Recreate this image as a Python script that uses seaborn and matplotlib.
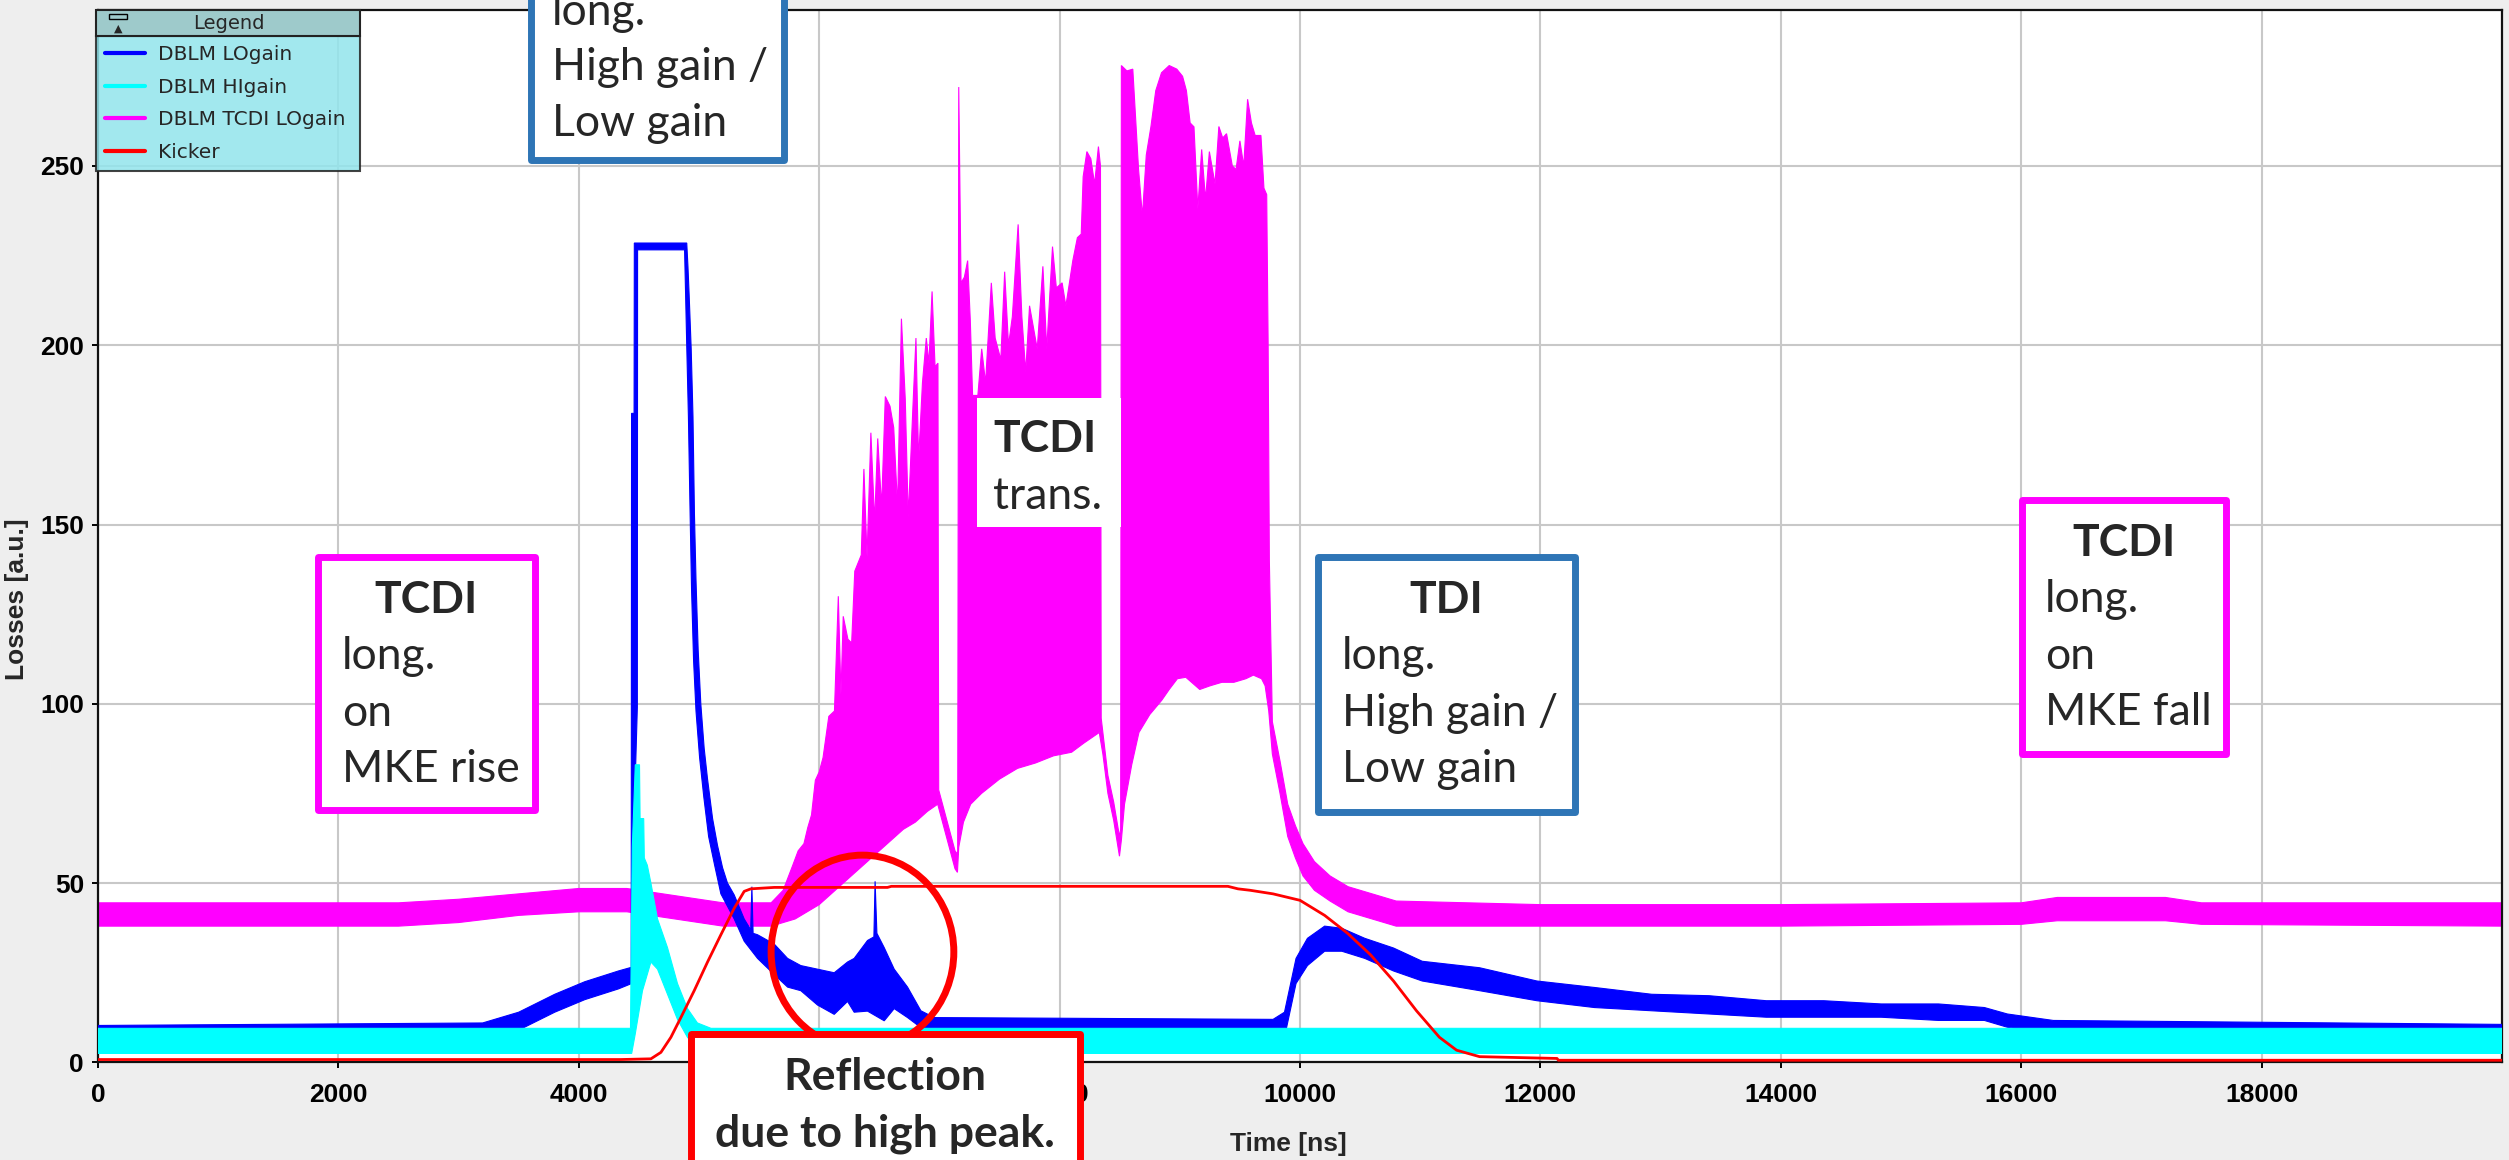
import numpy as np
import matplotlib
matplotlib.use("Agg")
import matplotlib.pyplot as plt
import seaborn as sns
from matplotlib.patches import Rectangle, Ellipse
from matplotlib.lines import Line2D

# ---------------- data ----------------
# DBLM TCDI LOgain (magenta): upper / lower envelope of the dense trace
tcdi_hi_t = [0, 2500, 3000, 3500, 4000, 4400, 4800, 5200, 5600, 5700, 5777, 5825, 5873, 5905, 5936,
             5968, 6000, 6032, 6080, 6127, 6159, 6181, 6200, 6239, 6270, 6296, 6350, 6372, 6398,
             6430, 6461, 6487, 6519, 6550, 6589, 6620, 6652, 6684, 6716, 6741, 6780, 6805, 6827,
             6859, 6891, 6913, 6939, 6964, 6988, 6994, 7034, 7082, 7130, 7152, 7161, 7180, 7208,
             7235, 7257, 7276, 7320, 7352, 7384, 7432, 7464, 7511, 7543, 7575, 7607, 7655, 7686,
             7718, 7750, 7782, 7814, 7861, 7893, 7941, 7973, 8021, 8052, 8080, 8110, 8148, 8180,
             8196, 8227, 8260, 8291, 8323, 8340, 8346, 8402, 8450, 8498, 8508, 8514, 8560, 8609,
             8657, 8689, 8721, 8760, 8800, 8848, 8912, 8975, 9023, 9055, 9086, 9118, 9150, 9182,
             9214, 9246, 9293, 9325, 9357, 9389, 9437, 9468, 9500, 9532, 9564, 9596, 9627, 9675,
             9700, 9723, 9735, 9745, 9770, 9834, 9898, 9962, 10025, 10120, 10250, 10400, 10600,
             10800, 12000, 14000, 16000, 16300, 17200, 17500, 20000]
tcdi_hi_v = [44.5, 44.5, 45.5, 47, 48.5, 48.5, 46.5, 44.5, 44.5, 48, 54.7, 59, 61, 65.5, 69,
             78.7, 81, 85, 96.5, 98, 130, 102.6, 124.4, 118, 117, 137, 141.5, 165.5, 141,
             175.6, 150.8, 174, 155, 185.7, 183, 177, 155, 207.4, 185, 152, 183, 202, 168,
             189.5, 202, 195, 215, 194, 195, 76, 71, 65, 59, 58, 272, 217.4, 219,
             223.6, 207, 186, 186, 199, 189.5, 217.4, 202, 196, 220.5, 200, 208, 233.7, 208,
             192.6, 211, 205, 199, 222, 199, 227.5, 216, 217.4, 211, 217, 223.6, 230, 231,
             247, 254, 252, 245, 255.4, 250, 96, 80, 72.6, 63, 65, 278, 276.5, 277,
             249, 236, 253, 261, 271, 276, 278, 277, 275, 271, 262, 260.9, 238, 254.6,
             240.7, 254, 245, 261, 257.8, 259, 250, 249, 257, 250, 268.6, 262, 258.5, 258.5,
             243.8, 242, 200, 140, 95, 84, 72, 66, 61, 56, 52, 49, 47,
             45, 44, 44, 44.5, 46, 46, 44.5, 44.5]
tcdi_lo_t = [0, 2500, 3000, 3500, 4000, 4400, 4800, 5200, 5600, 5800, 5900, 6000, 6100, 6200,
             6300, 6400, 6500, 6600, 6700, 6800, 6900, 6986, 7034, 7082, 7130, 7150, 7161, 7200,
             7260, 7350, 7500, 7650, 7800, 7950, 8100, 8200, 8330, 8360, 8402, 8450, 8498, 8514,
             8540, 8600, 8660, 8750, 8850, 8912, 8980, 9050, 9166, 9250, 9350, 9450, 9550, 9612,
             9680, 9710, 9740, 9770, 9834, 9898, 9962, 10025, 10120, 10250, 10400, 10600, 10800,
             12000, 14000, 16000, 16300, 17200, 17500, 20000]
tcdi_lo_v = [38, 38, 39, 41, 42, 42, 40, 38, 38, 40, 42, 44, 47, 50,
             53, 56, 59, 62, 65, 67, 70, 72, 66, 60, 54, 53, 60, 67,
             72, 75, 79, 82, 83.5, 85.5, 86.5, 89, 92, 86, 75, 67.5, 57.5, 62,
             72, 83, 92, 97, 101, 104, 107, 107.4, 104, 105, 106, 106, 107, 108,
             107, 105, 98, 86, 75, 63, 57, 52, 48, 45, 42, 40, 38,
             38, 38, 38.5, 39.5, 39.5, 38.5, 38]

# DBLM LOgain (blue)
blue_hi_t = [0, 3200, 3500, 3800, 4050, 4330, 4436, 4439, 4460, 4462, 4898, 4908, 4918, 4935,
             4950, 4962, 4975, 4993, 5015, 5043, 5071, 5113, 5154, 5196, 5237, 5293, 5376, 5430,
             5440, 5450, 5487, 5626, 5737, 5847, 5986, 6125, 6236, 6291, 6402, 6455, 6465, 6480,
             6541, 6624, 6735, 6846, 6957, 9776, 9871, 9967, 10062, 10205, 10348, 10539, 10778,
             11017, 11494, 11971, 12449, 12926, 13403, 13880, 14358, 14835, 15312, 15694, 15885,
             16076, 16267, 20000]
blue_hi_v = [10.3, 11, 14, 19, 22.5, 25.5, 26.5, 181, 181, 228.5, 228.5, 222, 214, 199,
             180, 153, 134.6, 115, 100, 87.6, 79, 68, 60.5, 54.3, 50, 46.7, 40, 37,
             49, 36, 35.6, 33, 29, 27, 26, 25, 28, 29, 34, 35, 50.5, 36,
             32, 26, 21, 14.4, 12.5, 12, 14, 29, 34.6, 38, 37.4, 34.6, 31.9,
             28.2, 26.4, 22.7, 20.9, 19, 18.6, 17.2, 17.2, 16.3, 16.3, 15.3, 13.5,
             12.6, 11.7, 10.6]
blue_lo_t = [0, 3200, 3500, 3800, 4050, 4330, 4440, 4462, 4487, 4489, 4880, 4888, 4898, 4912,
             4925, 4938, 4955, 4975, 5005, 5040, 5080, 5130, 5182, 5293, 5376, 5487, 5626, 5737,
             5847, 5986, 6125, 6236, 6291, 6402, 6541, 6624, 6735, 6846, 6957, 9776, 9871, 9967,
             10062, 10205, 10348, 10539, 10778, 11017, 11494, 11971, 12449, 12926, 13403, 13880,
             14358, 14835, 15312, 15694, 15885, 16076, 16267, 20000]
blue_lo_v = [4, 6, 9, 14, 17.5, 20.5, 22, 70, 99, 226.6, 226.6, 215, 200, 180,
             155, 132, 112, 98, 85, 74, 63, 55, 47, 40, 33.8, 29, 24.5, 21,
             20, 16, 13.4, 17, 14, 14.3, 11.6, 15, 12.5, 9.7, 8.8, 8.5, 7, 22,
             27, 31, 31, 29, 25.5, 22.7, 20, 17.2, 15.3, 14.4, 13.5, 12.6,
             12.6, 12.6, 11.7, 11.7, 9.8, 8.9, 8.5, 8]

# DBLM HIgain (cyan)
cyan_hi_t = [0, 4430, 4445, 4470, 4505, 4510, 4540, 4545, 4570, 4600, 4655, 4738, 4821, 4904,
             4987, 5100, 20000]
cyan_hi_v = [9.5, 9.5, 60, 83, 83, 68, 68, 57, 55, 50, 40, 32, 22, 15, 11, 9.5, 9.5]
cyan_lo_t = [0, 4440, 4470, 4530, 4600, 4655, 4738, 4821, 4904, 4987, 5100, 20000]
cyan_lo_v = [2.5, 2.5, 8, 20, 28, 26, 19, 12, 7, 4, 2.5, 2.5]

# Kicker (red)
kick_t = [0, 4350, 4600, 4683, 4766, 4849, 4960, 5071, 5182, 5293, 5376, 5431, 5626, 6568,
          6600, 9400, 9484, 9585, 9776, 10000, 10205, 10396, 10587, 10778, 10969, 11160, 11303,
          11494, 12138, 12150, 20000]
kick_v = [0.8, 0.8, 1, 2.8, 7, 12.5, 20, 28, 35.6, 43, 47.7, 48.4, 48.8, 48.8,
          49.1, 49.1, 48.4, 48, 47, 45.2, 41, 36, 30, 22.7, 14.4, 7, 3.4,
          1.6, 1.1, 0.6, 0.6]

series_labels = ["DBLM LOgain", "DBLM HIgain", "DBLM TCDI LOgain", "Kicker"]
series_colors = ["#0000FF", "#00FFFF", "#FF00FF", "#FF0000"]
x_ticks = list(range(0, 20000, 2000))
y_ticks = list(range(0, 251, 50))

# ---------------- figure ----------------
sns.set_theme(style="ticks")
plt.rcParams['font.family'] = ['Liberation Sans', 'DejaVu Sans']

W, H = 2509, 1160
fig = plt.figure(figsize=(W / 100, H / 100), dpi=100, facecolor="#EEEEEE")
ax = fig.add_axes([98 / W, 1 - 1062.4 / H, (2502 - 98) / W, (1062.4 - 9.6) / H])
ax.set_facecolor("white")


def band(t_hi, v_hi, t_lo, v_lo, color, z):
    xs = list(t_hi) + list(t_lo)[::-1]
    ys = list(v_hi) + list(v_lo)[::-1]
    ax.fill(xs, ys, facecolor=color, edgecolor=color, lw=0.8, zorder=z)


band(tcdi_hi_t, tcdi_hi_v, tcdi_lo_t, tcdi_lo_v, series_colors[2], 2)
band(blue_hi_t, blue_hi_v, blue_lo_t, blue_lo_v, series_colors[0], 3)
band(cyan_hi_t, cyan_hi_v, cyan_lo_t, cyan_lo_v, series_colors[1], 4)
sns.lineplot(x=kick_t, y=kick_v, ax=ax, color=series_colors[3], lw=2, zorder=6, sort=False)

ax.add_patch(Ellipse((6360, 30.8), width=1520, height=54, fill=False, edgecolor="#FF0000",
                     lw=5, zorder=9))

ax.set_xlim(0, 20000)
ax.set_ylim(0, 293.6)
ax.set_xticks(x_ticks, labels=[str(v) for v in x_ticks], fontsize=19, fontweight='bold')
ax.set_yticks(y_ticks, labels=[str(v) for v in y_ticks], fontsize=19, fontweight='bold')
ax.tick_params(axis='both', direction='out', length=4, width=1.4, color='black',
               labelcolor='black')
ax.tick_params(axis='x', pad=11)
ax.tick_params(axis='y', pad=6)
ax.grid(True, color="#C8C8C8", lw=1.5)
ax.set_axisbelow(True)
for s in ax.spines.values():
    s.set_visible(True)
    s.set_color("#111111")
    s.set_linewidth(1.6)

ax.set_xlabel("Time [ns]", fontsize=19, fontweight='bold')
ax.set_ylabel("Losses [a.u.]", fontsize=19, fontweight='bold')
ax.xaxis.set_label_coords(0.495, -0.066)
ax.yaxis.set_label_coords(-0.0285, 0.44)

# legend
handles = [Line2D([], [], color=c, lw=3) for c in series_colors]
leg = ax.legend(handles, series_labels, loc='upper left',
                bbox_to_anchor=(-0.001, 0.843, 0.110, 0.132), mode='expand',
                borderaxespad=0, prop={'family': 'DejaVu Sans', 'size': 14.5},
                labelspacing=0.68, handlelength=2.0, handletextpad=0.65, borderpad=0.45,
                fancybox=False, framealpha=0.85)
leg.get_frame().set_facecolor("#92E5EC")
leg.get_frame().set_edgecolor("#222222")
leg.get_frame().set_linewidth(1.5)
leg.set_zorder(12)
ax.add_patch(Rectangle((-0.001, 0.975), 0.110, 0.0245, transform=ax.transAxes,
                       facecolor="#9ECACB", edgecolor="#222222", lw=1.5, zorder=13,
                       clip_on=False))
ax.text(0.0545, 0.987, "Legend", transform=ax.transAxes, ha='center', va='center',
        fontsize=14, family='DejaVu Sans', zorder=14)
ax.add_patch(Rectangle((0.0045, 0.991), 0.0075, 0.0045, transform=ax.transAxes,
                       facecolor='none', edgecolor='black', lw=1, zorder=14, clip_on=False))
ax.text(0.0083, 0.982, "▲", transform=ax.transAxes, ha='center', va='center',
        fontsize=8, family='DejaVu Sans', zorder=14)


# ---------------- annotation boxes (figure pixels, top-left origin) ----------------
def fx(x):
    return x / W


def fy(y):
    return 1 - y / H


def box(x0, x1, y0, y1, ec, lw=5):
    r = Rectangle((fx(x0), fy(y1)), fx(x1) - fx(x0), fy(y0) - fy(y1), transform=fig.transFigure,
                  facecolor='white', edgecolor=ec, lw=lw, joinstyle='round', zorder=20)
    fig.add_artist(r)


def txt(x, y, s, bold=False, ha='left'):
    fig.text(fx(x), fy(y), s, ha=ha, va='baseline', fontsize=32,
             fontweight='bold' if bold else 'normal', family=['Lato', 'DejaVu Sans'], zorder=21)


BLUE_BOX = "#2E75B6"
MAG_BOX = "#FF00FF"
RED_BOX = "#FF0000"

# TDI (top, partly outside)
box(531, 784, -80, 160, BLUE_BOX)
txt(657, -31, "TDI", bold=True, ha='center')
txt(552, 25, "long.")
txt(552, 80, "High gain /")
txt(552, 136, "Low gain")

# TCDI long. on MKE rise
box(318, 535, 557, 810, MAG_BOX)
txt(426, 613, "TCDI", bold=True, ha='center')
txt(342, 669, "long.")
txt(342, 726, "on")
txt(342, 782, "MKE rise")

# TCDI trans.
box(977, 1121, 398, 527, 'none', lw=0)
txt(993, 452, "TCDI", bold=True)
txt(993, 509, "trans.")

# TDI long. High gain / Low gain
box(1318, 1575, 557, 812, BLUE_BOX)
txt(1446, 613, "TDI", bold=True, ha='center')
txt(1342, 669, "long.")
txt(1342, 726, "High gain /")
txt(1342, 782, "Low gain")

# TCDI long. on MKE fall
box(2022, 2226, 500, 754, MAG_BOX)
txt(2124, 556, "TCDI", bold=True, ha='center')
txt(2045, 612, "long.")
txt(2045, 669, "on")
txt(2045, 725, "MKE fall")

# Reflection
box(691, 1080, 1034, 1220, RED_BOX)
txt(885, 1090, "Reflection", bold=True, ha='center')
txt(885, 1147, "due to high peak.", bold=True, ha='center')

fig.savefig("out.png", dpi=100, facecolor=fig.get_facecolor())
